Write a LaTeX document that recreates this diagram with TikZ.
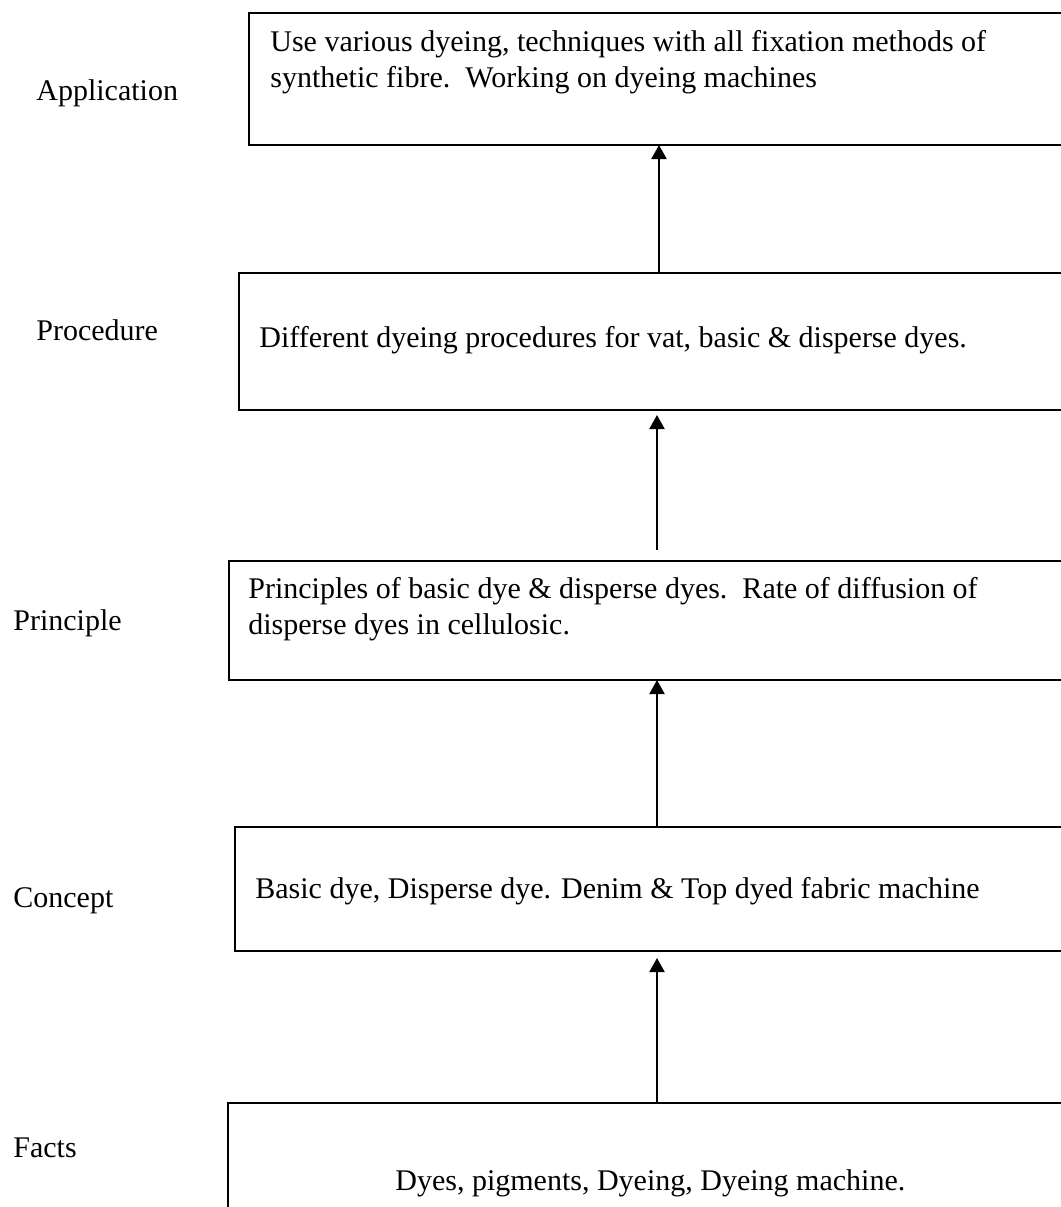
\documentclass[tikz,border=0pt]{standalone}
\usepackage{fontspec}
\setmainfont{Liberation Serif}
\usetikzlibrary{arrows.meta}
\begin{document}
\begin{tikzpicture}[x=0.5pt,y=-0.5pt,
  box/.style={draw, line width=0.8pt, rectangle, anchor=north west, inner sep=0pt, outer sep=0pt, minimum width=440pt},
  lbl/.style={anchor=base west, inner sep=0pt, font=\fontsize{15}{18}\selectfont},
  txt/.style={anchor=base west, inner sep=0pt, font=\fontsize{15}{18}\selectfont},
  arr/.style={-{Triangle[width=7.5pt,length=7pt]}, line width=1pt}]
\useasboundingbox (0,0) rectangle (1061,1207);
\clip (0,0) rectangle (1061,1207);
% boxes
\node[box, minimum height=66pt] (app) at (249,13) {};
\node[box, minimum height=68.5pt] (proc) at (239,273) {};
\node[box, minimum height=59.5pt] (prin) at (229,561) {};
\node[box, minimum height=62pt] (conc) at (235,827) {};
\node[box, minimum height=80pt] (fact) at (228,1103) {};
% level labels
\node[lbl] (lapp) at (36,100) {Application};
\node[lbl] (lproc) at (36,340) {Procedure};
\node[lbl] (lprin) at (13,630) {Principle};
\node[lbl] (lconc) at (13,907) {Concept};
\node[lbl] (lfact) at (13,1157) {Facts};
% box texts
\node[txt] (tapp1) at (270,51) {Use various dyeing, techniques with all fixation methods of};
\node[txt] (tapp2) at (270,87) {synthetic fibre.\ \ Working on dyeing machines};
\node[txt] (tproc) at (259,347) {Different dyeing procedures for vat, basic \& disperse dyes.};
\node[txt] (tprin1) at (248,598) {Principles of basic dye \& disperse dyes.\ \ Rate of diffusion of};
\node[txt] (tprin2) at (248,634) {disperse dyes in cellulosic.};
\node[txt] (tconc) at (255,898) {Basic dye, Disperse dye. Denim \& Top dyed fabric machine};
\node[txt] (tfact) at (395,1190) {Dyes, pigments, Dyeing, Dyeing machine.};
% arrow columns
\coordinate (c1) at (659,0);
\coordinate (c2) at (657,0);
\draw[arr] (proc.north -| c1) -- (app.south -| c1);
\draw[arr, shorten <=5.5pt, shorten >=2.5pt] (prin.north -| c2) -- (proc.south -| c2);
\draw[arr] (conc.north -| c2) -- (prin.south -| c2);
\draw[arr, shorten >=3.5pt] (fact.north -| c2) -- (conc.south -| c2);
\end{tikzpicture}
\end{document}
